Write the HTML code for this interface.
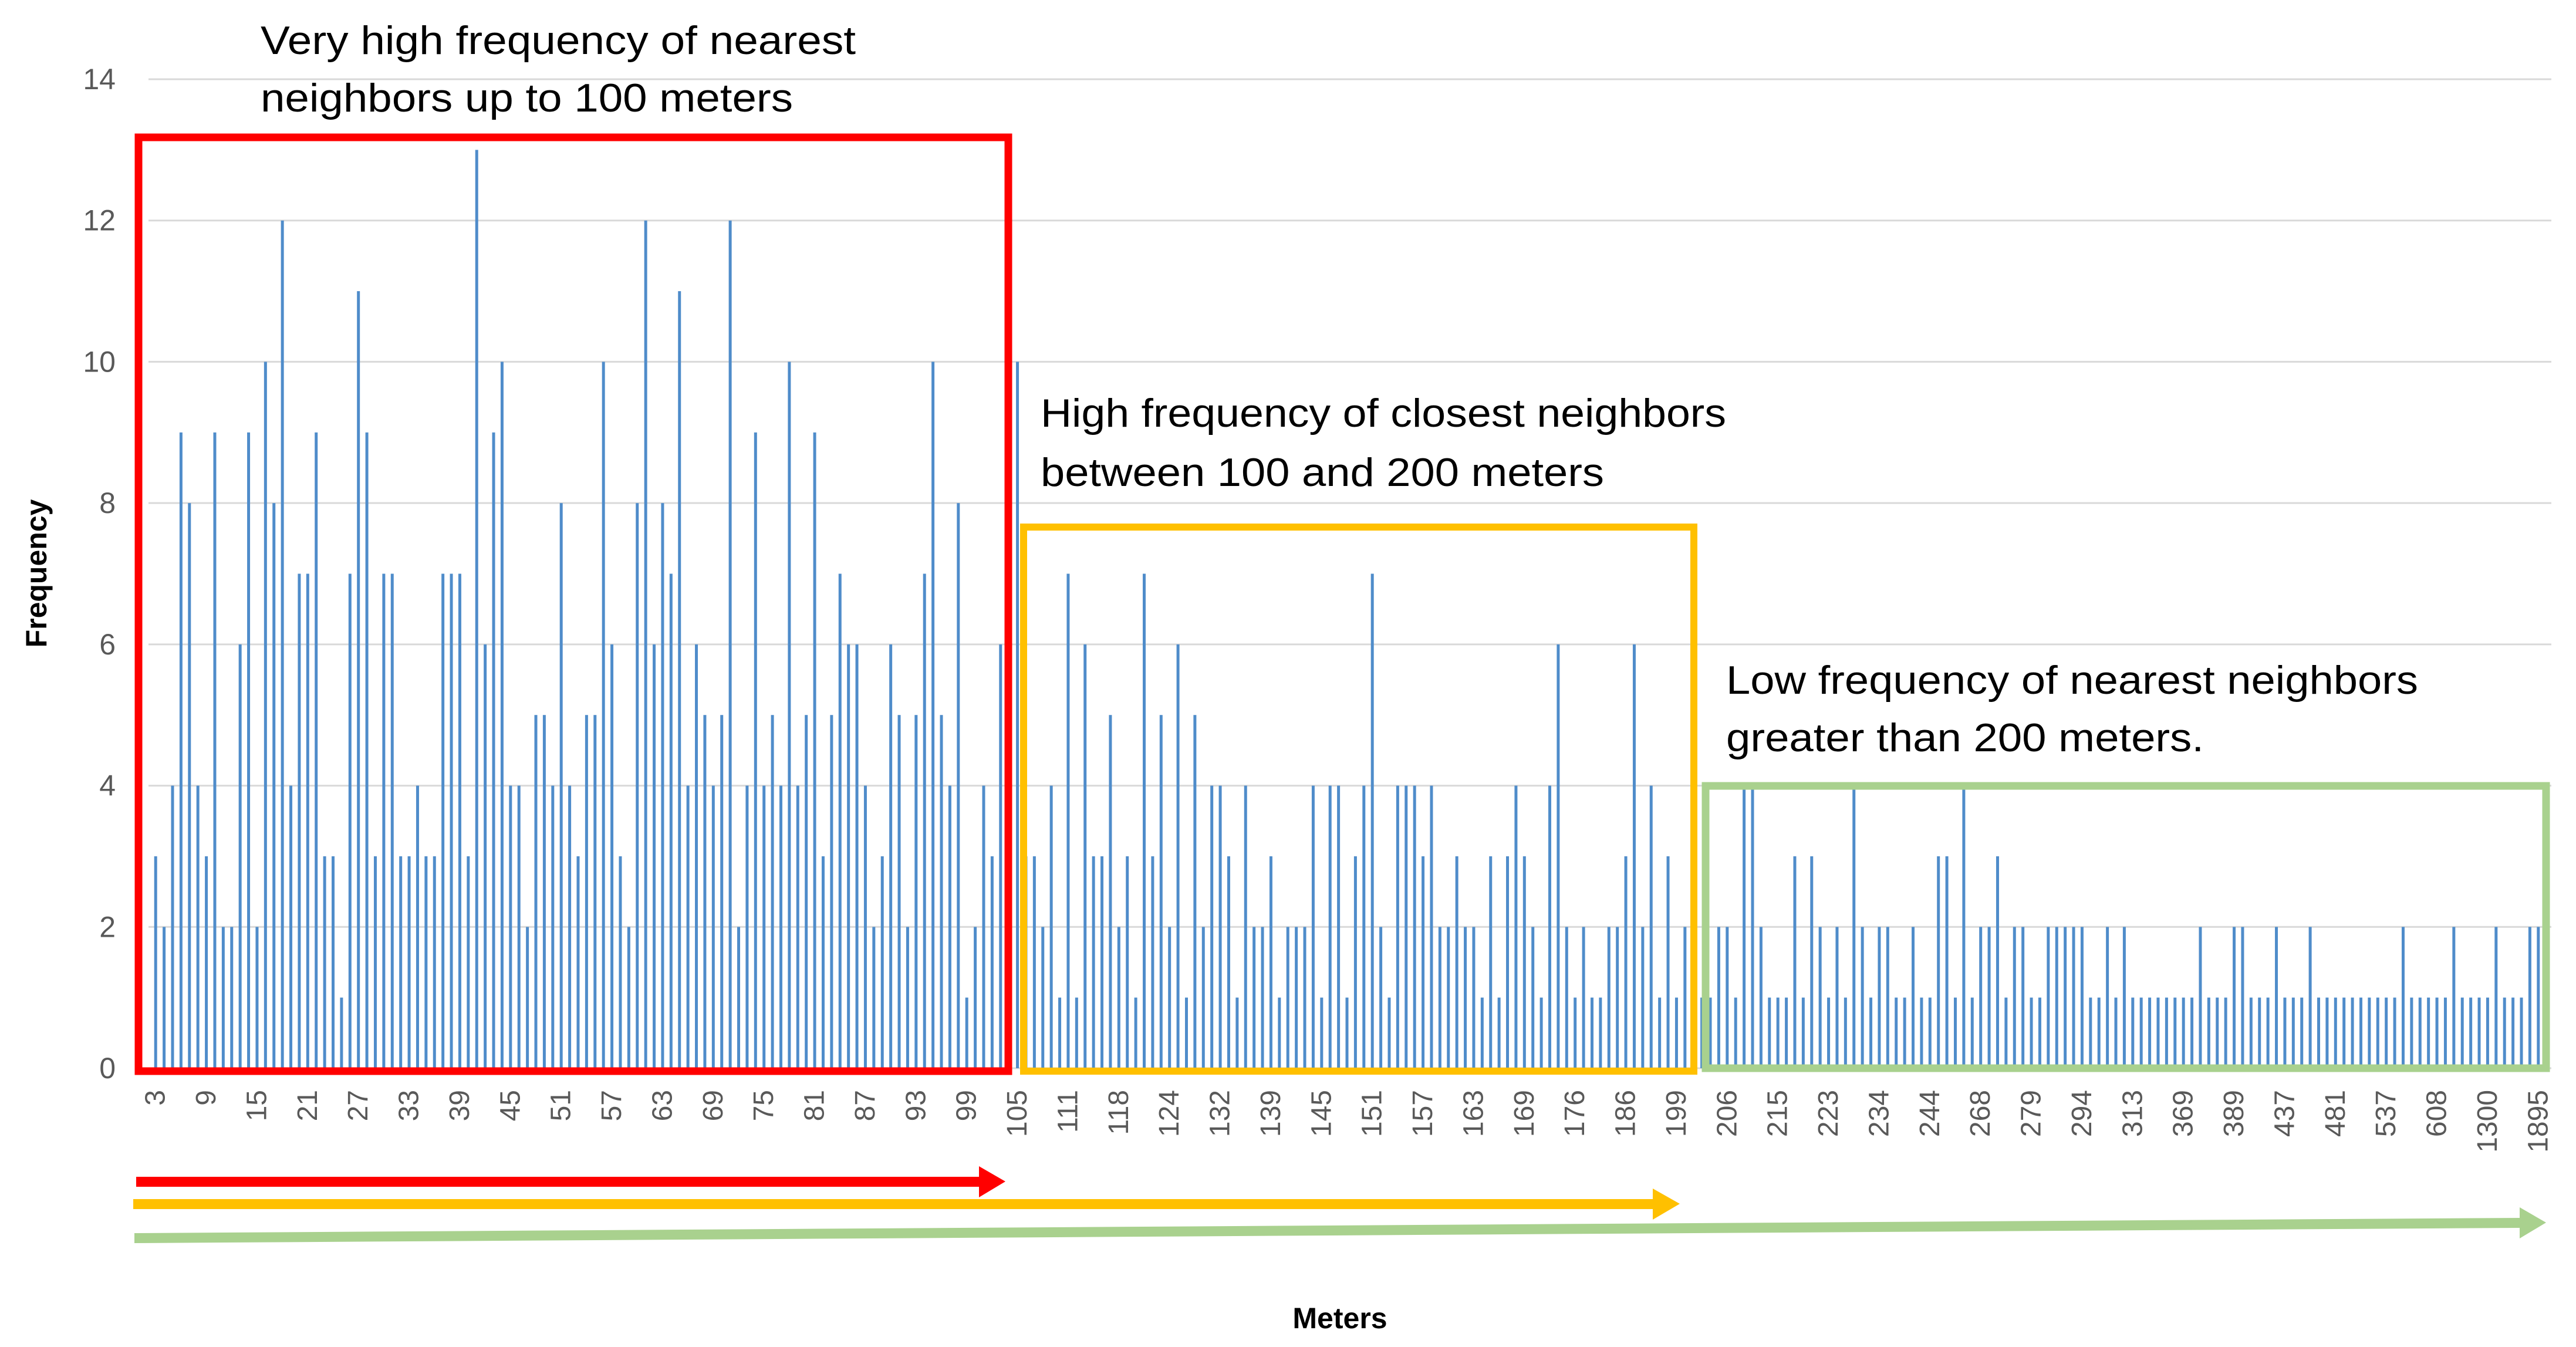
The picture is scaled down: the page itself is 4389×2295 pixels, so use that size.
<!DOCTYPE html>
<html><head><meta charset="utf-8">
<style>
html,body{margin:0;padding:0;background:#fff;}
svg{display:block;font-family:"Liberation Sans",sans-serif;}
</style></head>
<body>
<svg id="chart" width="4389" height="2295" viewBox="0 0 4389 2295" xmlns="http://www.w3.org/2000/svg">
<g id="grid"></g>
<g id="yticks"></g>
<g id="bars"></g>
<g id="xticks"></g>
<text x="62" y="977" transform="rotate(-90 62 977)" text-anchor="middle" dominant-baseline="central" font-size="50" font-weight="bold" fill="#000">Frequency</text>
<text x="2283" y="2246" text-anchor="middle" dominant-baseline="central" font-size="50" font-weight="bold" fill="#000">Meters</text>

<rect x="236" y="234" width="1482" height="1591" fill="none" stroke="#ff0000" stroke-width="13"/>
<rect x="1744" y="898" width="1142" height="927" fill="none" stroke="#ffc000" stroke-width="12"/>
<rect x="2906" y="1339" width="1432" height="481" fill="none" stroke="#a9d18e" stroke-width="13"/>

<g font-size="68" fill="#000">
<text x="444" y="92" textLength="1014" lengthAdjust="spacingAndGlyphs">Very high frequency of nearest</text>
<text x="444" y="190" textLength="907" lengthAdjust="spacingAndGlyphs">neighbors up to 100 meters</text>
<text x="1773" y="727" textLength="1168" lengthAdjust="spacingAndGlyphs">High frequency of closest neighbors</text>
<text x="1773" y="828" textLength="960" lengthAdjust="spacingAndGlyphs">between 100 and 200 meters</text>
<text x="2941" y="1182" textLength="1179" lengthAdjust="spacingAndGlyphs">Low frequency of nearest neighbors</text>
<text x="2941" y="1280" textLength="814" lengthAdjust="spacingAndGlyphs">greater than 200 meters.</text>
</g>

<g>
<rect x="232" y="2005" width="1440" height="17" fill="#ff0000"/>
<polygon points="1668,1987 1713,2013 1668,2040" fill="#ff0000"/>
</g>
<g>
<rect x="227" y="2043" width="2592" height="17" fill="#ffc000"/>
<polygon points="2816,2025 2862,2051 2816,2078" fill="#ffc000"/>
</g>
<g>
<polygon points="229,2101 4295,2075 4295,2092 229,2118" fill="#a9d18e"/>
<polygon points="4293,2057 4338,2083 4293,2110" fill="#a9d18e"/>
</g>
</svg>
<script>
const tickLabels = ["3","9","15","21","27","33","39","45","51","57","63","69","75","81","87","93","99","105","111","118","124","132","139","145","151","157","163","169","176","186","199","206","215","223","234","244","268","279","294","313","369","389","437","481","537","608","1300","1895"];
const yTicks = [0,2,4,6,8,10,12,14];
const values = [
3,2,4,9,8,4,3,9,2,2,6,9,2,10,8,12,4,7,7,9,3,3,1,7,11,9,3,7,7,3,3,4,3,3,7,7,7,3,13,6,9,10,4,4,2,5,5,4,8,4,3,
5,5,10,6,3,2,8,12,6,8,7,11,4,6,5,4,5,12,2,4,9,4,5,4,10,4,5,9,3,5,7,6,6,4,2,3,6,5,2,5,7,10,5,4,8,1,2,4,3,6,
3,
10,3,3,2,4,1,7,1,6,3,3,5,2,3,1,7,3,5,2,6,1,5,2,4,4,3,1,4,2,2,3,1,2,2,2,4,1,4,4,1,3,4,7,2,1,4,4,4,3,4,
2,2,3,2,2,1,3,1,3,4,3,2,1,4,6,2,1,2,1,1,2,2,3,6,2,4,1,3,1,2,
1,1,
1,2,2,1,4,4,2,1,1,1,3,1,3,2,1,2,1,4,2,
1,2,2,1,1,2,1,1,3,3,1,4,1,2,2,3,1,2,2,1,1,2,2,2,2,2,1,1,2,1,2,1,1,1,1,1,1,1,1,2,1,1,1,2,2,1,1,1,2,1,1,
1,2,1,1,1,1,1,1,1,1,1,1,2,1,1,1,1,1,2,1,1,1,1,2,1,1,1,2,
2
];
const NS = "http://www.w3.org/2000/svg";
const plotL = 258, plotR = 4332, y0 = 1820, yTop = 135, yMax = 14;
const n = values.length;
const step = (plotR - plotL) / n;
function xC(i){ return plotL + step * (i + 0.5); }
function yS(v){ return y0 - (y0 - yTop) * v / yMax; }

const grid = document.getElementById('grid');
const yt = document.getElementById('yticks');
yTicks.forEach(function(t){
  const l = document.createElementNS(NS,'line');
  l.setAttribute('x1', 253); l.setAttribute('x2', 4347);
  l.setAttribute('y1', yS(t)); l.setAttribute('y2', yS(t));
  l.setAttribute('stroke', '#d9d9d9'); l.setAttribute('stroke-width', 3);
  
  
  grid.appendChild(l);
  const tx = document.createElementNS(NS,'text');
  tx.setAttribute('x', 197); tx.setAttribute('y', yS(t));
  tx.setAttribute('text-anchor', 'end'); tx.setAttribute('dominant-baseline', 'central');
  tx.setAttribute('font-size', 50); tx.setAttribute('fill', '#595959');
  tx.textContent = t;
  
  
  yt.appendChild(tx);
});

const bars = document.getElementById('bars');
values.forEach(function(v, i){
  const r = document.createElementNS(NS,'rect');
  r.setAttribute('x', xC(i) - 2.5); r.setAttribute('width', 5);
  r.setAttribute('y', yS(v)); r.setAttribute('height', y0 - yS(v));
  r.setAttribute('fill', '#4f8cca');
  
  
  bars.appendChild(r);
});

const xt = document.getElementById('xticks');
tickLabels.forEach(function(lab, k){
  const x = xC(k * 6), y = 1857;
  const tx = document.createElementNS(NS,'text');
  tx.setAttribute('x', x); tx.setAttribute('y', y);
  tx.setAttribute('transform', 'rotate(-90 ' + x + ' ' + y + ')');
  tx.setAttribute('text-anchor', 'end'); tx.setAttribute('dominant-baseline', 'central');
  tx.setAttribute('font-size', 48); tx.setAttribute('fill', '#595959');
  tx.textContent = lab;
  
  
  xt.appendChild(tx);
});
</script>
</body></html>
